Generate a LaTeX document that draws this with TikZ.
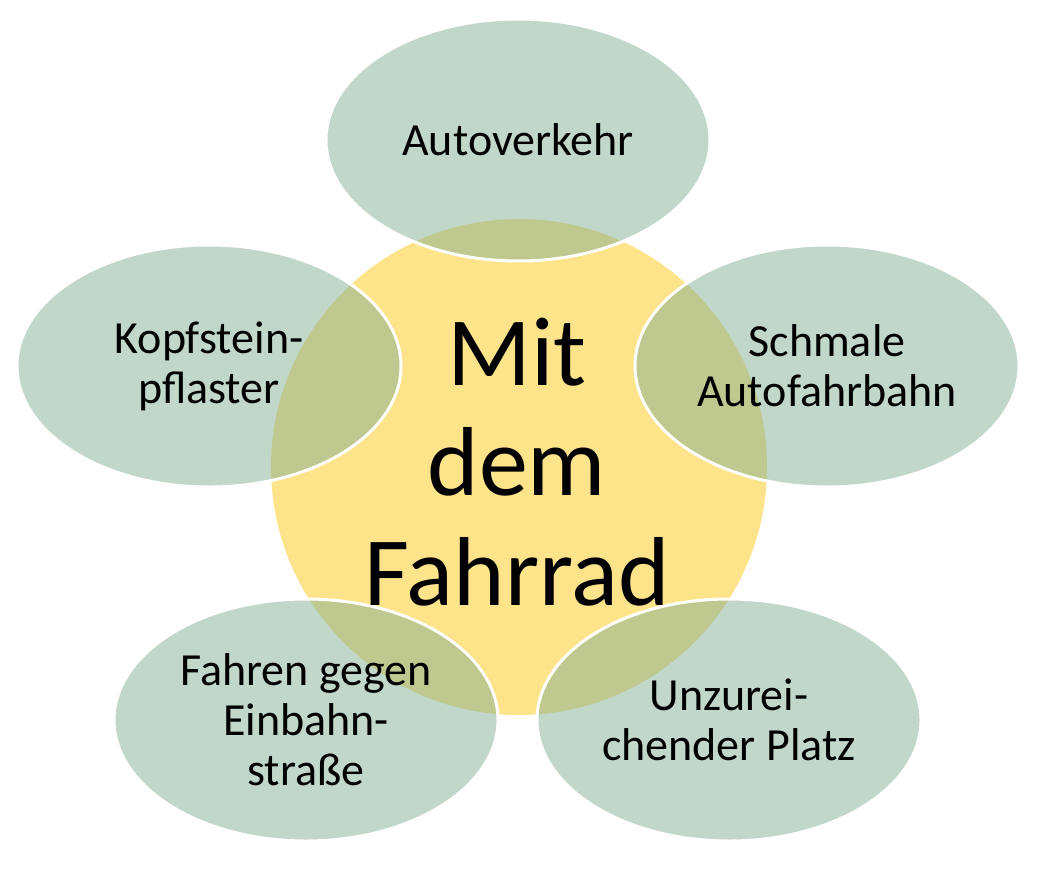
\documentclass[tikz,border=0pt]{standalone}
\usepackage{fontspec}
\setmainfont{Carlito}
\usetikzlibrary{shapes.geometric}
\definecolor{hubyellow}{HTML}{FDE38A}
\definecolor{petalgreen}{HTML}{81AF95}

\begin{document}
\begin{tikzpicture}[x=1pt,y=-1pt,
  petal/.style={ellipse,minimum width=384pt,minimum height=242pt,inner sep=0pt,
    fill=petalgreen,fill opacity=0.5,text opacity=1,draw=white,draw opacity=1,
    line width=3pt,align=center,font=\fontsize{46}{50}\selectfont}]
  \useasboundingbox (0,0) rectangle (1040,880);
  \node[circle,fill=hubyellow,minimum size=496pt,inner sep=0pt] (hub) at (519,467) {};
  \foreach \pos/\name/\txt in {{(518,140)}/verkehr/Autoverkehr,
      {(209,366)}/pflaster/{Kopfstein-\\pflaster},
      {(827,366)}/fahrbahn/{Schmale\\Autofahrbahn},
      {(306,720)}/einbahn/{Fahren gegen\\Einbahn-\\straße},
      {(729,720)}/platz/{Unzurei-\\chender Platz}}
    \node[petal] (\name) at \pos {\txt};
  \node[align=center,font=\fontsize{98}{110}\selectfont] (hubtext) at (517,462) {Mit\\dem\\Fahrrad};
\end{tikzpicture}
\end{document}
